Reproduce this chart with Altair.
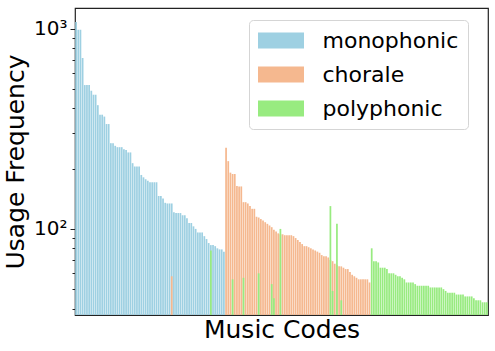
import altair as alt
import pandas as pd

series_names = ["monophonic", "chorale", "polyphonic"]
series_colors = ["#9ed0e2", "#f5b88f", "#98eb80"]

# Usage frequency per music code (codes sorted: monophonic block, chorale block, polyphonic block)
mono_values = [1080, 989, 989, 714, 523, 523, 523, 490, 468, 468, 415, 372, 372, 364, 334, 334,
               268, 268, 260, 256, 256, 256, 250, 248, 241, 241, 213, 205, 205, 205, 186, 181,
               177, 174, 171, 171, 171, 171, 146, 146, 142, 135, 134, 134, 134, 121, 120, 120,
               120, 117, 117, 113, 107, 107, 103, 100, 96, 96, 96, 92, 89, 85, 83, 83, 82, 80,
               79, 79, 77]
chorale_values = [254, 218, 191, 188, 188, 164, 163, 163, 136, 136, 134, 130, 126, 126, 115, 114,
                  112, 110, 108, 106, 104, 102, 99, 97, 95, 94, 94, 93, 93, 93, 93, 92, 90, 88,
                  86, 84, 82, 82, 81, 80, 79, 78, 77, 76, 74, 73, 73, 72, 70, 69, 67, 66, 65, 65,
                  64, 63, 63, 61, 59, 58, 57, 56, 56, 56, 56, 56, 54]
poly_values = [80, 69, 69, 68, 64, 64, 64, 63, 60, 60, 60, 59, 58, 58, 57, 56, 54, 54, 54, 54,
               53, 52, 52, 52, 52, 52, 52, 51, 51, 51, 51, 51, 51, 50, 49, 48, 48, 48, 48, 47,
               47, 47, 47, 46, 46, 46, 46, 45, 44, 44, 44, 43, 43, 43]

# occasional usage of a code by another category
chorale_extra_codes = [45]
chorale_extra_values = [58]
poly_extra_codes = [63, 73, 78, 85, 91, 92, 95, 118, 119, 121, 123]
poly_extra_values = [78, 56, 57, 60, 53, 45, 100, 130, 49, 106, 44]

y_ticks = [40, 50, 60, 70, 80, 90, 100, 200, 300, 400, 500, 600, 700, 800, 900, 1000]
y_min, y_max = 37.15, 1269

rows = []
n_mono = len(mono_values)
n_chor = len(chorale_values)
n_poly = len(poly_values)
for i, v in enumerate(mono_values):
    rows.append({"code": 1 + i, "series": "monophonic", "value": v, "rank": 0})
for c, v in zip(chorale_extra_codes, chorale_extra_values):
    rows.append({"code": c, "series": "chorale", "value": v, "rank": 1})
for i, v in enumerate(chorale_values):
    rows.append({"code": n_mono + 1 + i, "series": "chorale", "value": v, "rank": 1})
for c, v in zip(poly_extra_codes, poly_extra_values):
    rows.append({"code": c, "series": "polyphonic", "value": v, "rank": 2})
for i, v in enumerate(poly_values):
    rows.append({"code": n_mono + n_chor + 1 + i, "series": "polyphonic", "value": v, "rank": 2})
df = pd.DataFrame(rows)
n_codes = n_mono + n_chor + n_poly

chart = alt.Chart(df).transform_calculate(
    x0="datum.code - 0.4", x1="datum.code + 0.4"
).mark_bar().encode(
    x=alt.X("x0:Q",
            scale=alt.Scale(domain=[0.5, n_codes + 0.5], nice=False, zero=False),
            axis=alt.Axis(title="Music Codes", labels=False, ticks=False, domain=False,
                          grid=False, titleFontSize=25, titlePadding=2,
                          titleFontWeight="normal", titleColor="black")),
    x2="x1:Q",
    y=alt.Y("value:Q", stack=None,
            scale=alt.Scale(type="log", domain=[y_min, y_max], nice=False),
            axis=alt.Axis(values=y_ticks, grid=False, domain=False,
                          labelExpr="datum.value == 1000 ? '10³' : (datum.value == 100 ? '10²' : '')",
                          tickSize={"condition": {"test": "datum.value == 100 || datum.value == 1000", "value": 5}, "value": 3},
                          tickColor="#222", tickWidth=1,
                          labelFontSize=20, labelColor="black", labelPadding=3,
                          labelOverlap=False, labelFlush=False,
                          title="Usage Frequency", titleFontSize=25, titleFontWeight="normal",
                          titleColor="black", titlePadding=5)),
    y2=alt.datum(y_min),
    color=alt.Color("series:N",
                    scale=alt.Scale(domain=series_names, range=series_colors),
                    legend=alt.Legend(title=None, orient="none", legendX=174, legendY=12,
                                      padding=9, rowPadding=11,
                                      symbolType="M-2,-0.7H2V0.7H-2Z", symbolSize=529,
                                      symbolOffset=11.5,
                                      symbolStrokeWidth=0, symbolOpacity=1,
                                      labelFontSize=22, labelColor="black", labelOffset=30,
                                      labelLimit=300,
                                      strokeColor="#d5d5d5", fillColor="white",
                                      cornerRadius=4)),
    order=alt.Order("rank:Q"),
).properties(
    width=413, height=307,
    autosize=alt.AutoSizeParams(type="none"),
    padding={"left": 75, "top": 8, "right": 7, "bottom": 36},
).configure(font="DejaVu Sans").configure_view(stroke="#222", strokeWidth=1.2)

chart.save("out.html", embed_options={"renderer": "svg", "actions": False})
